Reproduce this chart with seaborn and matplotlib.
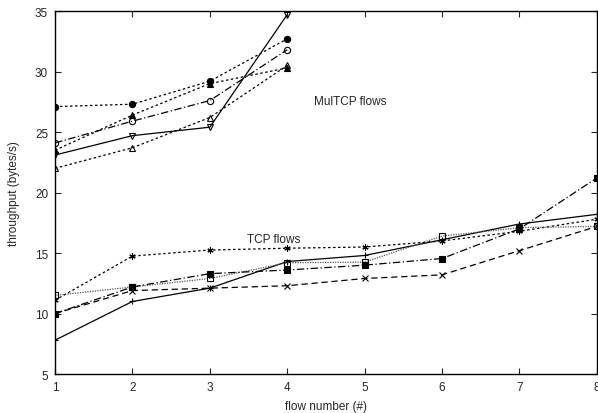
import numpy as np
import pandas as pd
import matplotlib
matplotlib.use("Agg")
import matplotlib.pyplot as plt
import seaborn as sns

# flow numbers
flows_tcp = [1, 2, 3, 4, 5, 6, 7, 8]
flows_mul = [1, 2, 3, 4]

# TCP flows (bytes/s)
tcp_plus = [7.8, 11.0, 12.1, 14.3, 14.8, 16.1, 17.4, 18.2]
tcp_cross = [10.0, 11.9, 12.1, 12.3, 12.9, 13.2, 15.2, 17.2]
tcp_star = [11.1, 14.75, 15.25, 15.4, 15.5, 16.0, 16.8, 17.8]
tcp_osq = [11.5, 12.2, 12.9, 14.2, 14.25, 16.4, 17.1, 17.2]
tcp_fsq = [10.0, 12.2, 13.3, 13.6, 14.0, 14.55, 17.0, 21.2]

# MulTCP flows (bytes/s)
mul_ocirc = [24.1, 25.9, 27.6, 31.8]
mul_fcirc = [27.1, 27.3, 29.2, 32.7]
mul_otri = [22.0, 23.7, 26.2, 30.5]
mul_ftri = [23.5, 26.4, 29.0, 30.3]
mul_odown = [23.1, 24.7, 25.4, 34.7]

sns.set_style("ticks")
plt.rcParams['font.family'] = ['Liberation Sans', 'DejaVu Sans']

fig = plt.figure(figsize=(5.98, 4.14), dpi=100)
ax = fig.add_axes([0.092, 0.094, 0.906, 0.877])

series = [
    (flows_tcp, tcp_plus, '+', True, (0, ()), 'black'),
    (flows_tcp, tcp_cross, 'x', True, (0, (5, 3)), 'black'),
    (flows_tcp, tcp_star, (6, 2, 0), True, (0, (2, 2)), 'black'),
    (flows_tcp, tcp_osq, 's', False, (0, (1, 1)), '#555555'),
    (flows_tcp, tcp_fsq, 's', True, (0, (6, 2, 1, 2)), 'black'),
    (flows_mul, mul_ocirc, 'o', False, (0, (6, 2, 1, 2)), 'black'),
    (flows_mul, mul_fcirc, 'o', True, (0, (2, 2)), 'black'),
    (flows_mul, mul_otri, '^', False, (0, (2, 2)), 'black'),
    (flows_mul, mul_ftri, '^', True, (0, (2, 2)), 'black'),
    (flows_mul, mul_odown, 'v', False, (0, ()), 'black'),
]

for xs, ys, mk, filled, ls, col in series:
    sns.lineplot(x=xs, y=ys, ax=ax, color=col, linewidth=0.9,
                 marker=mk, markersize=4.5,
                 markerfacecolor=('black' if filled else 'none'),
                 markeredgecolor='black', markeredgewidth=0.8,
                 linestyle=ls, dashes=False)

ax.set_xlim(1, 8)
ax.set_ylim(5, 35)
ax.set_xticks(range(1, 9))
ax.set_yticks(range(5, 36, 5))
ax.tick_params(direction='in', length=4, width=0.8, labelsize=8.5,
               top=True, right=True, pad=5)
for s in ax.spines.values():
    s.set_linewidth(1.0)
    s.set_color('black')

ax.set_xlabel("flow number (#)", fontsize=8.5, labelpad=5)
ax.set_ylabel("throughput (bytes/s)", fontsize=8.5, labelpad=11)

ax.text(4.35, 27.3, "MulTCP flows", fontsize=8.5)
ax.text(3.48, 15.9, "TCP flows", fontsize=8.5)

fig.savefig("out.png", dpi=100)
